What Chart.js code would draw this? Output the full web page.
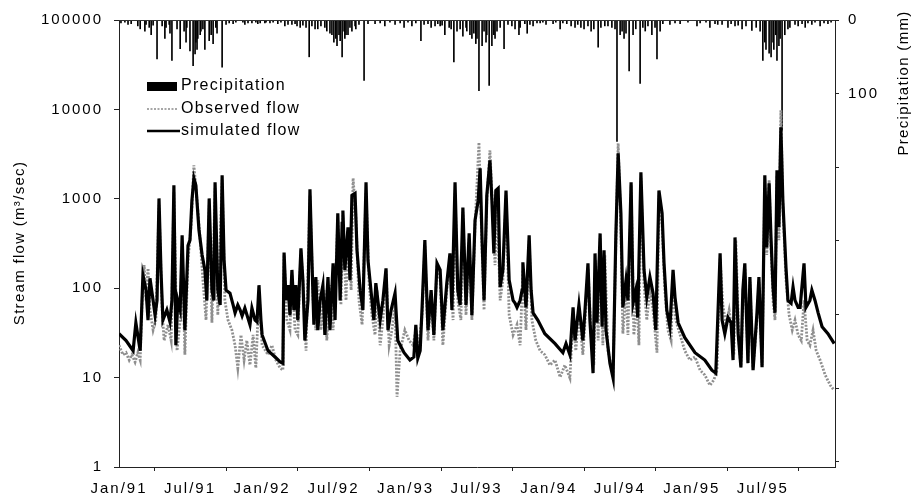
<!DOCTYPE html>
<html><head><meta charset="utf-8">
<script src="https://cdn.jsdelivr.net/npm/chart.js@4.4.1/dist/chart.umd.min.js"></script>
<style>html,body{margin:0;padding:0;background:#fff}</style>
</head><body>
<canvas id="c" width="912" height="499"></canvas>
<script>
// x values are days since 1 Jan 1991
const tickDays   = [0, 181, 365, 547, 731, 912, 1096, 1277, 1461, 1642];
const tickLabels = ["Jan/91","Jul/91","Jan/92","Jul/92","Jan/93","Jul/93","Jan/94","Jul/94","Jan/95","Jul/95"];
const flowTicks  = [1, 10, 100, 1000, 10000, 100000];
const precipTicks = [0, 100, 200, 300, 400, 500, 600];

const simDays = [
 0,18,36,43,54,61,69,74,79,87,
 92,97,102,107,112,122,130,135,140,145,
 150,156,161,168,176,181,186,191,196,204,
 212,219,224,230,237,242,245,252,258,263,
 268,273,283,291,296,303,309,314,321,329,
 334,339,347,352,357,362,365,380,398,411,
 418,421,426,431,436,441,446,451,456,464,
 469,474,482,487,492,497,502,507,513,520,
 525,533,538,546,551,558,564,569,571,576,
 584,589,594,602,607,615,622,630,635,640,
 650,655,666,673,681,686,694,704,711,727,
 742,752,757,762,768,773,780,788,796,803,
 811,819,826,836,844,849,857,864,870,877,
 885,893,900,908,916,921,926,931,938,946,
 951,956,961,967,972,979,987,995,1000,1005,
 1010,1015,1023,1028,1030,1038,1046,1051,1056,1068,
 1086,1112,1132,1140,1150,1158,1163,1173,1183,1188,
 1196,1201,1209,1214,1219,1227,1232,1237,1242,1252,
 1260,1267,1273,1280,1285,1293,1298,1306,1311,1318,
 1323,1331,1339,1346,1354,1362,1369,1377,1385,1390,
 1397,1405,1413,1418,1426,1443,1469,1494,1512,1522,
 1533,1538,1545,1553,1561,1566,1571,1579,1586,1591,
 1596,1604,1609,1617,1627,1632,1640,1647,1652,1658,
 1663,1668,1673,1678,1683,1688,1693,1701,1706,1714,
 1719,1724,1732,1737,1747,1752,1762,1767,1775,1783,
 1793,1808,1824];
const simFlow = [
 31,26,20,41,20,140,95,44,129,73,
 50,73,1010,160,44,57,42,73,1420,23,
 73,57,390,34,300,345,960,1700,1420,445,
 235,160,73,1010,95,73,1530,95,65,1830,
 205,95,88,65,53,65,57,49,60,46,
 39,60,44,42,108,44,30,20,17,15,
 14.5,250,73,108,50,160,57,108,44,280,
 123,26,73,1280,205,39,133,34,73,108,
 30,133,34,190,44,690,73,530,740,160,
 480,123,1090,1150,265,95,57,1530,205,123,
 44,114,44,73,167,34,57,88,26,19,
 15.7,17,39,16.5,20,61,345,34,95,30,
 190,160,34,114,245,57,1530,95,65,800,
 65,410,50,575,960,2190,345,73,1090,2690,
 960,245,1240,1310,103,160,1240,123,95,73,
 68,61,73,95,195,61,390,95,53,44,
 31,24,19,24,18,61,26,65,26,53,
 190,44,11.2,245,41,410,37,265,34,14.5,
 9.9,370,3220,690,61,123,73,1530,68,95,
 47,1980,160,79,133,88,34,1240,690,190,
 57,37,160,79,41,28,19,15.7,12.1,11.2,
 245,44,31,47,41,15.7,370,31,13.1,95,
 190,14.5,133,12.1,53,133,13.1,1830,285,1490,
 345,103,53,2080,480,6290,960,170,73,68,
 103,73,61,61,190,61,73,95,73,53,
 37,31,24];

const obsDays = [
 0,10,18,26,33,41,48,54,59,64,
 69,74,79,87,94,102,110,115,125,133,
 140,148,156,161,168,176,184,191,199,207,
 214,222,230,237,245,252,263,270,278,288,
 296,303,311,319,326,334,342,349,357,365,
 380,390,400,411,418,421,428,436,441,449,
 456,464,472,477,487,495,502,507,515,523,
 530,538,546,553,558,566,571,579,584,592,
 597,604,612,620,630,638,645,653,658,666,
 673,681,689,696,704,709,717,729,740,750,
 757,765,773,780,788,796,803,811,819,826,
 836,844,852,857,864,872,877,885,893,900,
 908,918,926,931,938,946,954,959,964,972,
 979,987,995,1005,1015,1023,1030,1038,1046,1053,
 1063,1074,1086,1099,1112,1125,1137,1150,1158,1165,
 1173,1183,1188,1196,1204,1211,1216,1222,1227,1234,
 1239,1247,1255,1260,1267,1273,1280,1285,1293,1298,
 1306,1313,1321,1326,1331,1339,1346,1354,1362,1372,
 1377,1385,1392,1400,1408,1413,1420,1431,1443,1456,
 1469,1482,1494,1507,1517,1525,1533,1540,1548,1556,
 1563,1568,1573,1581,1586,1591,1596,1604,1609,1617,
 1627,1632,1640,1647,1652,1658,1663,1668,1673,1678,
 1683,1688,1693,1701,1709,1717,1724,1732,1740,1747,
 1755,1762,1770,1778,1788,1801,1814,1824];
const obsFlow = [
 23,18,19,15.7,18,14.9,19,15.7,73,181,
 73,167,57,34,44,846,57,26,39,26,
 1180,20,44,300,18,205,506,2370,960,345,
 123,44,846,41,1310,50,1610,73,44,34,
 23,12.8,30,15.7,26,13.8,30,12.8,90,23,
 18,23,15.7,12.8,12.1,235,44,34,140,34,
 30,265,73,20,1090,73,34,123,34,95,
 26,108,34,160,575,65,654,73,445,95,
 1700,654,73,39,1240,108,50,30,95,23,
 44,160,23,34,65,6.1,20,34,26,23,
 34,23,50,300,26,84,26,181,123,23,
 95,216,44,1240,73,44,707,50,362,44,
 506,4280,265,57,960,3480,575,181,1090,73,
 123,1090,50,30,39,23,160,34,345,44,
 26,20,18,13.8,15.7,10.1,13.8,9.9,50,20,
 54,18,39,167,30,13.8,205,26,362,23,
 235,20,13.8,10.7,300,4170,445,31,95,30,
 1420,30,73,23,1700,108,44,95,57,19,
 1090,506,95,34,26,123,44,30,20,15.7,
 17,12.1,10.7,8.2,9.4,12.1,216,65,39,57,
 34,18,345,26,12.8,73,167,15.7,117,12.8,
 44,117,13.8,1530,235,1610,265,73,44,1830,
 345,9750,846,123,50,34,44,30,26,73,
 26,23,34,20,15.7,10.7,8.2,7.2];

const precipDays = [
 23,54,66,82,97,117,130,135,156,171,
 181,189,194,199,207,219,230,240,250,263,
 291,321,339,354,372,393,423,441,462,485,
 507,525,538,548,556,564,569,576,584,594,
 604,625,653,678,704,727,747,770,796,819,
 831,847,854,862,877,887,900,910,918,926,
 936,944,951,959,982,1002,1020,1023,1035,1041,
 1056,1074,1089,1107,1125,1142,1163,1186,1204,1222,
 1239,1257,1270,1278,1288,1301,1311,1329,1342,1359,
 1372,1380,1405,1431,1474,1507,1527,1553,1571,1589,
 1614,1642,1650,1658,1663,1670,1678,1683,1691,1698,
 1711,1732,1750,1767,1788,1808,
 5,15,31,48,69,77,87,110,120,128,
 148,166,173,196,201,209,214,235,247,273,
 281,298,316,329,349,360,375,385,405,413,
 431,449,454,469,477,492,500,515,530,543,
 553,561,574,579,589,602,612,635,666,691,
 717,737,757,778,788,806,813,824,842,870,
 885,895,905,913,931,938,956,964,972,992,
 1010,1048,1066,1081,1114,1132,1153,1170,1178,1196,
 1211,1229,1247,1265,1283,1293,1318,1336,1349,1367,
 1387,1418,1451,1482,1497,1520,1538,1561,1579,1599,
 1625,1635,1647,1668,1675,1686,1706,1724,1742,1757,
 1775,1798,1816];
const precipMm = [
 6,12,15,20,53,25,18,55,39,30,
 42,62,46,40,20,40,28,32,18,64,
 5,6,4,5,4,3,8,6,10,50,
 12,10,18,30,35,28,50,25,20,15,
 12,82,5,8,6,10,8,28,10,8,
 20,12,57,15,22,15,25,32,96,35,
 30,89,35,25,39,8,20,10,5,18,
 8,4,6,5,12,5,10,12,15,37,
 8,10,165,20,25,69,20,86,15,20,
 53,15,6,5,8,10,6,10,8,12,
 14,55,40,45,50,40,55,35,150,20,
 10,8,10,6,8,5,
 4,3,5,8,6,10,7,8,10,6,
 12,15,10,30,25,15,12,20,10,6,
 4,3,3,4,3,4,3,4,5,3,
 6,5,8,7,10,8,12,8,15,20,
 25,20,15,20,10,8,6,5,4,3,
 4,3,4,6,5,8,5,7,10,12,
 10,20,18,25,15,20,20,15,10,6,
 12,6,4,3,3,4,8,6,10,8,
 12,10,8,12,15,18,12,10,8,10,
 5,4,3,4,3,5,6,5,7,8,
 10,15,30,30,20,25,12,6,5,4,
 3,4,3];

const FONT = '"Liberation Sans", Arial, Helvetica, sans-serif';
const sim = simDays.map((d, i) => ({x: d, y: simFlow[i]}));
const obs = obsDays.map((d, i) => ({x: d, y: obsFlow[i]}));
const pr  = precipDays.map((d, i) => ({x: d, y: precipMm[i]}));

const axisCol = '#222';
const tickFont = {family: FONT, size: 15};

const decor = {
  id: 'decor',
  beforeUpdate(chart) { chart.ctx.letterSpacing = '2px'; },
  beforeDraw(chart) {
    const c = chart.ctx;
    c.save();
    c.fillStyle = '#fff';
    c.fillRect(0, 0, chart.width, chart.height);
    c.restore();
    c.letterSpacing = '2px';
  },
  afterDraw(chart) {
    const c = chart.ctx, a = chart.chartArea;
    c.save();
    c.strokeStyle = '#333'; c.lineWidth = 1;
    c.beginPath(); c.moveTo(a.left, a.top + 0.5); c.lineTo(a.right, a.top + 0.5); c.stroke();
    // legend
    c.fillStyle = '#000';
    c.fillRect(147, 82, 30, 9);
    c.strokeStyle = '#8a8a8a'; c.lineWidth = 1.5; c.setLineDash([2, 1.5]);
    c.beginPath(); c.moveTo(147, 109); c.lineTo(178, 109); c.stroke();
    c.setLineDash([]);
    c.strokeStyle = '#000'; c.lineWidth = 2.5;
    c.beginPath(); c.moveTo(147, 131); c.lineTo(180, 131); c.stroke();
    c.font = '16px ' + FONT;
    c.letterSpacing = '1.3px';
    c.textBaseline = 'middle'; c.textAlign = 'left'; c.fillStyle = '#000';
    c.fillText(chart.data.datasets[2].label, 181, 86);
    c.fillText(chart.data.datasets[1].label, 181, 109);
    c.fillText(chart.data.datasets[0].label, 181, 131);
    // axis titles
    c.font = '15px ' + FONT;
    c.textAlign = 'center';
    c.save(); c.translate(20, 243); c.rotate(-Math.PI / 2);
    c.fillText('Stream flow (m\u00B3/sec)', 0, 0); c.restore();
    c.save(); c.translate(904, 83); c.rotate(-Math.PI / 2);
    c.fillText('Precipitation (mm)', 0, 0); c.restore();
    c.restore();
    c.letterSpacing = '2px';
  }
};

new Chart(document.getElementById('c'), {
  type: 'line',
  data: {
    datasets: [
      {label: 'simulated flow', data: sim, borderColor: '#000', borderWidth: 3.2,
       pointRadius: 0, tension: 0, yAxisID: 'y', order: 0},
      {label: 'Observed flow', data: obs, borderColor: '#8f8f8f', borderWidth: 2.8,
       borderDash: [2, 1.5], pointRadius: 0, tension: 0, yAxisID: 'y', order: 1},
      {type: 'bar', label: 'Precipitation', data: pr, backgroundColor: '#000',
       barThickness: 1, yAxisID: 'y2', order: 2}
    ]
  },
  options: {
    responsive: false, animation: false, devicePixelRatio: 1,
    layout: {padding: {top: 18, left: 0, right: 0, bottom: 0}},
    plugins: {legend: {display: false}, tooltip: {enabled: false}},
    scales: {
      x: {
        type: 'linear', min: 0, max: 1826, offset: false, position: 'bottom',
        grid: {display: true, drawOnChartArea: false, drawTicks: true, tickLength: 4, color: axisCol},
        border: {display: true, color: axisCol, width: 1},
        ticks: {font: tickFont, color: '#000', padding: 9, maxRotation: 0, autoSkip: false,
          callback: (v) => { const i = tickDays.indexOf(v); return i >= 0 ? tickLabels[i] : ''; }},
        afterBuildTicks: (s) => { s.ticks = tickDays.map(v => ({value: v})); },
        afterFit: (s) => { s.height = 32; }
      },
      y: {
        type: 'logarithmic', position: 'left', min: 1, max: 100000,
        grid: {display: true, drawOnChartArea: false, drawTicks: true, tickLength: 5, color: axisCol},
        border: {display: true, color: axisCol, width: 1},
        ticks: {font: tickFont, color: '#000', padding: 11, autoSkip: false,
          callback: (v) => String(v)},
        afterBuildTicks: (s) => { s.ticks = flowTicks.map(v => ({value: v})); },
        afterFit: (s) => { s.width = 119; }
      },
      y2: {
        type: 'linear', position: 'right', reverse: true, min: 0, max: 607,
        grid: {display: true, drawOnChartArea: false, drawTicks: true, tickLength: 4, color: axisCol},
        border: {display: true, color: axisCol, width: 1},
        ticks: {font: tickFont, color: '#000', padding: 9, autoSkip: false,
          callback: (v) => (v === 0 || v === 100) ? String(v) : ''},
        afterBuildTicks: (s) => { s.ticks = precipTicks.map(v => ({value: v})); },
        afterFit: (s) => { s.width = 77; }
      }
    }
  },
  plugins: [decor]
});
</script>
</body></html>
